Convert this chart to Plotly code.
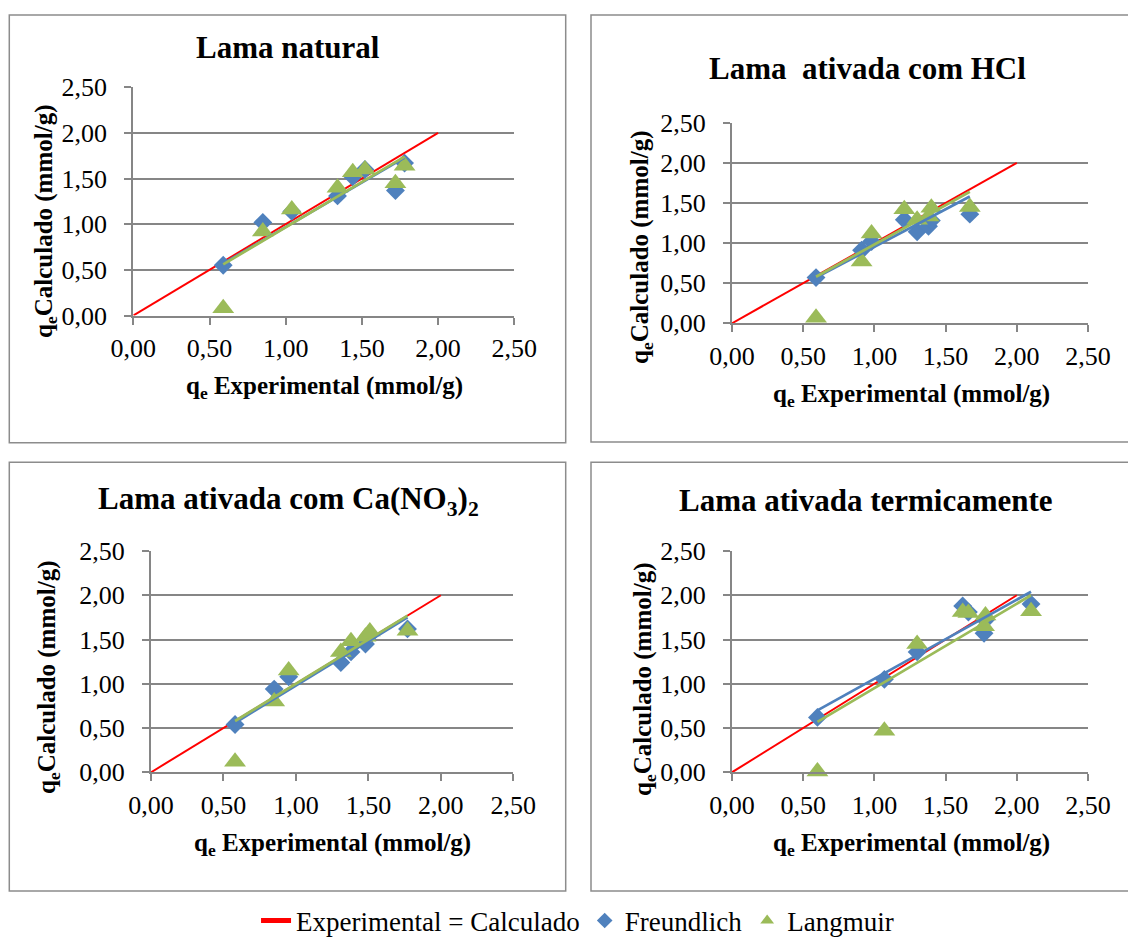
import plotly.graph_objects as go

W, H = 1128, 939

# q_e experimental (mmol/g) and q_e calculated by each isotherm model
qexp_natural = [0.59, 0.85, 1.04, 1.34, 1.44, 1.52, 1.72, 1.78]
freundlich_natural = [0.55, 1.02, 1.14, 1.31, 1.52, 1.60, 1.37, 1.67]
langmuir_natural = [0.08, 0.92, 1.16, 1.40, 1.57, 1.60, 1.45, 1.64]

qexp_hcl = [0.59, 0.91, 0.98, 1.21, 1.30, 1.38, 1.40, 1.67]
freundlich_hcl = [0.57, 0.91, 1.02, 1.29, 1.14, 1.21, 1.28, 1.36]
langmuir_hcl = [0.07, 0.77, 1.12, 1.42, 1.29, 1.33, 1.44, 1.45]

qexp_cano3 = [0.58, 0.85, 0.95, 1.31, 1.38, 1.48, 1.51, 1.77]
freundlich_cano3 = [0.54, 0.94, 1.08, 1.24, 1.36, 1.45, 1.55, 1.62]
langmuir_cano3 = [0.12, 0.80, 1.15, 1.36, 1.48, 1.53, 1.59, 1.60]

qexp_term = [0.60, 1.07, 1.30, 1.62, 1.66, 1.77, 1.78, 2.10]
freundlich_term = [0.62, 1.05, 1.36, 1.88, 1.81, 1.57, 1.72, 1.90]
langmuir_term = [0.01, 0.47, 1.45, 1.81, 1.80, 1.65, 1.77, 1.82]

# linear trend lines (start and end points) for each model
trend_x_natural = [0.59, 1.78]
trend_freundlich_natural = [0.57, 1.73]
trend_langmuir_natural = [0.56, 1.74]

trend_x_hcl = [0.59, 1.67]
trend_freundlich_hcl = [0.57, 1.58]
trend_langmuir_hcl = [0.58, 1.64]

trend_x_cano3 = [0.58, 1.77]
trend_freundlich_cano3 = [0.56, 1.75]
trend_langmuir_cano3 = [0.58, 1.77]

trend_x_term = [0.60, 2.10]
trend_freundlich_term = [0.70, 2.04]
trend_langmuir_term = [0.57, 2.00]

# identity line: experimental = calculated
ideal_x = [0, 2]
ideal_y = [0, 2]

titles = [
    "Lama natural",
    "Lama\u00a0 ativada com HCl",
    "Lama ativada com Ca(NO<sub>3</sub>)<sub>2</sub>",
    "Lama ativada termicamente",
]
tick_vals = [0, 0.5, 1.0, 1.5, 2.0, 2.5]
x_title = "q<sub>e</sub> Experimental (mmol/g)"
y_title = "q<sub>e</sub>Calculado (mmol/g)"

panels = [
    (qexp_natural, freundlich_natural, langmuir_natural,
     trend_x_natural, trend_freundlich_natural, trend_langmuir_natural),
    (qexp_hcl, freundlich_hcl, langmuir_hcl,
     trend_x_hcl, trend_freundlich_hcl, trend_langmuir_hcl),
    (qexp_cano3, freundlich_cano3, langmuir_cano3,
     trend_x_cano3, trend_freundlich_cano3, trend_langmuir_cano3),
    (qexp_term, freundlich_term, langmuir_term,
     trend_x_term, trend_freundlich_term, trend_langmuir_term),
]

# ---- layout geometry (pixels) ----
# plot areas: (left, right, top, bottom)
plot_boxes = [
    (133.3, 514.3, 87.3, 315.5),
    (732.0, 1088.0, 122.7, 323.3),
    (151.0, 513.3, 551.0, 772.3),
    (732.0, 1088.0, 551.0, 772.3),
]
# outer chart frames: (left, right, top, bottom)
frames = [
    (9.3, 565.7, 15.0, 442.7),
    (591.0, 1140.0, 15.0, 442.0),
    (9.3, 565.7, 462.3, 891.0),
    (591.0, 1140.0, 462.3, 891.0),
]
title_pos = [(288, 47.5), (867, 68), (288, 500.5), (866, 500.5)]
xtitle_pos = [(324, 388), (911, 396), (332, 844), (911, 844)]
ytitle_pos = [(46, 222), (642, 248), (48, 678), (644, 680)]

BLUE = "#4F81BD"
GREEN = "#9BBB59"
RED = "#FF0000"
GRID = "#868686"
FRAME = "#8C8C8C"
SERIF = "Times New Roman, Liberation Serif, serif"


def px(x):
    return x / W


def py(y):
    return 1 - y / H


fig = go.Figure()

for i, (qx, fy, ly, tx, tfy, tly) in enumerate(panels):
    sfx = "" if i == 0 else str(i + 1)
    xa, ya = "x" + sfx, "y" + sfx
    first = i == 0

    fig.add_trace(go.Scatter(
        x=ideal_x, y=ideal_y, mode="lines", xaxis=xa, yaxis=ya,
        line=dict(color=RED, width=2), name="Experimental = Calculado",
        legendgroup="ideal", showlegend=first, cliponaxis=False))
    fig.add_trace(go.Scatter(
        x=qx, y=fy, mode="markers", xaxis=xa, yaxis=ya,
        marker=dict(symbol="diamond", size=14.5, color=BLUE,
                    line=dict(width=0)),
        name="Freundlich", legendgroup="freundlich", showlegend=first,
        cliponaxis=False))
    fig.add_trace(go.Scatter(
        x=qx, y=ly, mode="markers", xaxis=xa, yaxis=ya,
        marker=dict(symbol="triangle-up", size=19, color=GREEN,
                    line=dict(width=0)),
        name="Langmuir", legendgroup="langmuir", showlegend=first,
        cliponaxis=False))
    fig.add_trace(go.Scatter(
        x=tx, y=tfy, mode="lines", xaxis=xa, yaxis=ya,
        line=dict(color=BLUE, width=2.75), showlegend=False,
        hoverinfo="skip"))
    fig.add_trace(go.Scatter(
        x=tx, y=tly, mode="lines", xaxis=xa, yaxis=ya,
        line=dict(color=GREEN, width=2.75), showlegend=False,
        hoverinfo="skip"))

    l, r, t, b = plot_boxes[i]
    common = dict(
        range=[0, 2.5], tickvals=tick_vals, tickformat=".2f",
        ticks="outside", ticklen=7, tickwidth=2, tickcolor=GRID,
        showline=True, linecolor=GRID, linewidth=2, zeroline=False,
        tickfont=dict(family=SERIF, size=26, color="black"),
        fixedrange=True,
    )
    fig.layout["xaxis" + sfx] = dict(
        domain=[px(l), px(r)], anchor=ya, showgrid=False,
        ticklabelstandoff=1, **common)
    fig.layout["yaxis" + sfx] = dict(
        domain=[py(b), py(t)], anchor=xa, showgrid=True,
        gridcolor=GRID, gridwidth=2, ticklabelstandoff=12, **common)

shapes = []
for (l, r, t, b) in frames:
    shapes.append(dict(
        type="rect", xref="paper", yref="paper",
        x0=px(l), x1=px(r), y0=py(b), y1=py(t),
        line=dict(color=FRAME, width=1.5), fillcolor="rgba(0,0,0,0)",
        layer="below"))

annotations = []
for i in range(4):
    tx_, ty_ = title_pos[i]
    annotations.append(dict(
        text="<b>%s</b>" % titles[i], x=px(tx_), y=py(ty_),
        xref="paper", yref="paper", xanchor="center", yanchor="middle",
        showarrow=False, font=dict(family=SERIF, size=31, color="black")))
    ax_, ay_ = xtitle_pos[i]
    annotations.append(dict(
        text="<b>%s</b>" % x_title, x=px(ax_), y=py(ay_),
        xref="paper", yref="paper", xanchor="center", yanchor="middle",
        showarrow=False, font=dict(family=SERIF, size=25, color="black")))
    bx_, by_ = ytitle_pos[i]
    annotations.append(dict(
        text="<b>%s</b>" % y_title, x=px(bx_), y=py(by_),
        xref="paper", yref="paper", xanchor="center", yanchor="middle",
        textangle=-90, showarrow=False,
        font=dict(family=SERIF, size=25, color="black")))

fig.update_layout(
    width=W, height=H, autosize=False,
    margin=dict(l=0, r=0, t=0, b=0, autoexpand=False),
    paper_bgcolor="white", plot_bgcolor="white",
    separators=",.",
    shapes=shapes, annotations=annotations,
    showlegend=True,
    legend=dict(
        orientation="h", x=0.512, xanchor="center", y=py(921),
        yanchor="middle", font=dict(family=SERIF, size=27, color="black"),
        itemsizing="constant", bgcolor="rgba(0,0,0,0)", tracegroupgap=0,
    ),
)

fig.write_html("out.html")
